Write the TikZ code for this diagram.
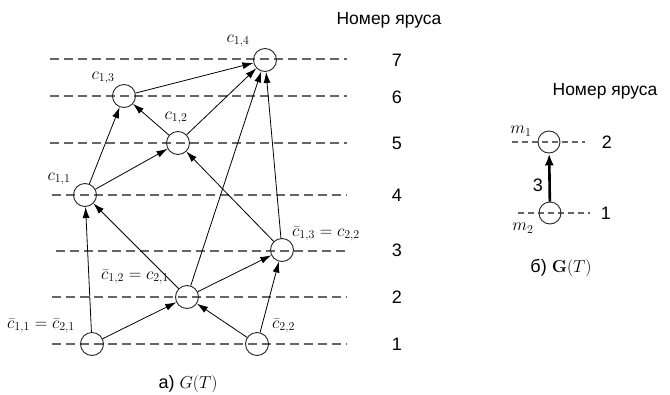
\documentclass[tikz,border=0pt]{standalone}
\usepackage[no-math]{fontspec}
\setmainfont{Liberation Sans}
\usetikzlibrary{arrows.meta}
\begin{document}
\begin{tikzpicture}[x=1pt,y=-1pt,
  vert/.style={circle,draw=black!85,line width=0.9pt,minimum size=23pt,inner sep=0pt},
  vsmall/.style={circle,draw=black!85,line width=0.9pt,minimum size=22pt,inner sep=0pt},
  tier/.style={draw=black!60,line width=1.4pt,dash pattern=on 9pt off 5pt},
  tiersm/.style={draw=black!60,line width=1.4pt,dash pattern=on 6pt off 4pt},
  arr/.style={draw=black,line width=0.8pt,-{Latex[length=11pt,width=7pt]}},
  thickarr/.style={draw=black,line width=2.6pt,-{Latex[length=12pt,width=9pt]}},
  lab/.style={inner sep=0pt,font=\fontsize{17.5}{20}\selectfont},
  num/.style={inner sep=0pt,font=\fontsize{18}{20}\selectfont},
  ttl/.style={inner sep=0pt,font=\fontsize{17.5}{20}\selectfont}]
\useasboundingbox (0,0) rectangle (670,394);
% tier lines
\foreach \y/\s in {59/50,96/50,143/50,195/52,251/56,297/52,344/52}
  \draw[tier] (\s,\y) -- (347,\y);
% vertices
\node[vert] (c14) at (265,60) {};
\node[vert] (c13) at (124,96) {};
\node[vert] (c12) at (178,143) {};
\node[vert] (c11) at (85,195) {};
\node[vert] (c22) at (282,250) {};
\node[vert] (c21) at (187,297) {};
\node[vert] (c11b) at (92,344) {};
\node[vert] (c22b) at (257,344) {};
% edges
\draw[arr] (c11b) -- (c11);
\draw[arr] (c11b) -- (c21);
\draw[arr] (c22b) -- (c21);
\draw[arr] (c22b) -- (c22);
\draw[arr] (c21) -- (c11);
\draw[arr] (c21) -- (c22);
\draw[arr] (c21) -- (c14);
\draw[arr] (c22) -- (c14);
\draw[arr] (c22) -- (c12);
\draw[arr] (c11) -- (c13);
\draw[arr] (c11) -- (c12);
\draw[arr] (c12) -- (c13);
\draw[arr] (c12) -- (c14);
\draw[arr] (c13) -- (c14);
% labels
\node[lab] (l14) at (238,41) {$c_{1,4}$};
\node[lab] (l13) at (103,78) {$c_{1,3}$};
\node[lab] (l12) at (176,118) {$c_{1,2}$};
\node[lab] (l11) at (59,179) {$c_{1,1}$};
\node[lab,anchor=west] (l22) at (292,234) {$\bar{c}_{1,3}=c_{2,2}$};
\node[lab,anchor=west] (l21) at (101,277) {$\bar{c}_{1,2}=c_{2,1}$};
\node[lab,anchor=west] (l11b) at (7,326) {$\bar{c}_{1,1}=\bar{c}_{2,1}$};
\node[lab,anchor=west] (l22b) at (272,326) {$\bar{c}_{2,2}$};
% tier numbers
\node[ttl] (hdr1) at (389,20) {Номер яруса};
\foreach \y/\n in {60/7,97/6,143/5,195/4,250/3,297/2,344/1}
  \node[num] (n\n) at (397,\y) {\n};
\node[num] (capa) at (188,384) {а) $G(T)$};
% right graph
\draw[tiersm] (512,142) -- (585,142);
\draw[tiersm] (518,213) -- (590,213);
\node[vsmall] (m1) at (549,142) {};
\node[vsmall] (m2) at (550,213) {};
\draw[thickarr] (m2) -- (m1);
\node[lab] (lm1) at (521,131) {$m_1$};
\node[lab] (lm2) at (523,228) {$m_2$};
\node[num] (w3) at (538,185) {3};
\node[num] (r2) at (607,142) {2};
\node[num] (r1) at (606,213) {1};
\node[ttl] (hdr2) at (605,91) {Номер яруса};
\node[num] (capb) at (561,268) {б) $\mathbf{G}(T)$};
\end{tikzpicture}
\end{document}
